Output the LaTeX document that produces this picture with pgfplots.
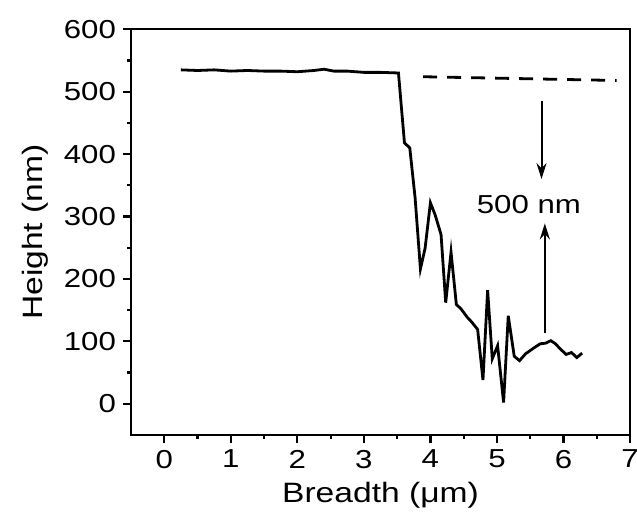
\documentclass[border=0pt]{standalone}
\usepackage{fontspec}
\setmainfont{Liberation Sans}[FakeStretch=1.2]
\usepackage{pgfplots}
\pgfplotsset{compat=1.18}
\usetikzlibrary{arrows.meta}
\begin{document}
\begin{tikzpicture}
\begin{axis}[
  scale only axis, width=249.5pt, height=202.8pt,
  xmin=-0.5, xmax=7, ymin=-50, ymax=600,
  xtick={0,1,...,7}, ytick={0,100,...,600},
  minor x tick num=1, minor y tick num=1,
  tick align=outside, xtick pos=bottom, ytick pos=left,
  major tick length=4pt, minor tick length=2pt,
  every tick/.style={black, line width=1.1pt},
  axis line style={line width=1.1pt},
  /pgf/number format/assume math mode=true,
  ticklabel style={font=\fontsize{13}{15}\selectfont},
  label style={font=\fontsize{14}{16}\selectfont},
  xlabel={Breadth (μm)}, ylabel={Height (nm)},
  xlabel style={at={(axis description cs:0.5,0)}, anchor=center, yshift=-30pt},
  ylabel style={at={(axis description cs:0,0.5)}, anchor=center, yshift=48pt},
]
\addplot[black, line width=1.4pt] coordinates {
(0.25,535) (0.5,534) (0.75,535) (1.0,533) (1.25,534) (1.5,533) (1.75,533)
(2.0,532) (2.25,534) (2.4,536) (2.55,533) (2.75,533) (3.0,531) (3.25,531) (3.52,530)
(3.61,418) (3.69,410) (3.77,330) (3.85,216) (3.92,249) (4.0,322) (4.07,303)
(4.16,271) (4.23,162) (4.31,243) (4.39,159) (4.46,152) (4.55,139) (4.62,131)
(4.71,119) (4.79,38) (4.86,182) (4.93,72) (5.01,93) (5.10,2) (5.17,141)
(5.26,76) (5.34,69) (5.43,80) (5.55,89) (5.65,96) (5.73,97) (5.81,101)
(5.88,96) (5.95,88) (6.04,79) (6.12,82) (6.20,74) (6.28,81)
};
\addplot[black, line width=1.4pt, dash pattern=on 7pt off 5pt] coordinates {
(3.89,524) (6.8,518)
};
\draw[line width=1pt, -{Stealth[length=8pt,width=5pt]}] (axis cs:5.67,485) -- (axis cs:5.67,360);
\draw[line width=1pt, -{Stealth[length=8pt,width=5pt]}] (axis cs:5.72,113) -- (axis cs:5.72,289);
\node[font=\fontsize{13}{15}\selectfont] at (axis cs:5.48,319) {500 nm};
\coordinate (bl) at (rel axis cs:0,0);
\coordinate (tr) at (rel axis cs:1,1);
\end{axis}
\pgfresetboundingbox
\path ([shift={(-65.5pt,-40pt)}]bl) rectangle ([shift={(3.5pt,14.65pt)}]tr);
\end{tikzpicture}
\end{document}
